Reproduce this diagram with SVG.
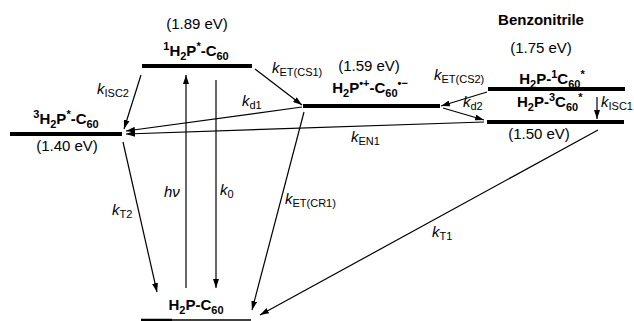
<svg xmlns="http://www.w3.org/2000/svg" width="634" height="321" viewBox="0 0 634 321">
<style>
text{font-family:"Liberation Sans",Arial,sans-serif;font-size:15px;fill:#000}
.b{font-weight:bold}
.k{font-style:italic}
.s{font-size:11px;font-style:normal}
.lvl{stroke:#000;stroke-width:4;fill:none}
.ar{stroke:#000;stroke-width:1.2;fill:none;marker-end:url(#ah)}
</style>
<defs>
<marker id="ah" markerUnits="userSpaceOnUse" markerWidth="10" markerHeight="6" refX="9" refY="3" orient="auto">
<path d="M0,0 L9,3 L0,6 z" fill="#000"/>
</marker>
</defs>
<rect width="634" height="321" fill="#fff"/>
<text class="b" x="541" y="25" text-anchor="middle">Benzonitrile</text>

<g id="S1">
<line class="lvl" x1="142" y1="66" x2="252" y2="66"/>
<text x="197" y="29" text-anchor="middle">(1.89 eV)</text>
<text class="b" x="196" y="56" text-anchor="middle"><tspan dy="-6" font-size="11">1</tspan><tspan dy="6">H</tspan><tspan dy="4" font-size="11">2</tspan><tspan dy="-4">P</tspan><tspan dy="-6" font-size="11">*</tspan><tspan dy="6">-C</tspan><tspan dy="4" font-size="11">60</tspan></text>
</g>

<g id="T1">
<line class="lvl" x1="10" y1="134" x2="122" y2="134"/>
<text class="b" x="66" y="124" text-anchor="middle"><tspan dy="-6" font-size="11">3</tspan><tspan dy="6">H</tspan><tspan dy="4" font-size="11">2</tspan><tspan dy="-4">P</tspan><tspan dy="-6" font-size="11">*</tspan><tspan dy="6">-C</tspan><tspan dy="4" font-size="11">60</tspan></text>
<text x="67" y="151" text-anchor="middle">(1.40 eV)</text>
</g>

<g id="CS">
<line class="lvl" x1="303" y1="106" x2="440" y2="106"/>
<text x="369" y="71" text-anchor="middle">(1.59 eV)</text>
<text class="b" x="370" y="93" text-anchor="middle">H<tspan dy="4" font-size="11">2</tspan><tspan dy="-4">P</tspan><tspan dy="-6" font-size="11">•+</tspan><tspan dy="6">-C</tspan><tspan dy="4" font-size="11">60</tspan><tspan dy="-10" font-size="11">•−</tspan></text>
</g>

<g id="C1">
<line class="lvl" x1="488" y1="89" x2="625" y2="89"/>
<text x="541" y="53" text-anchor="middle">(1.75 eV)</text>
<text class="b" x="552" y="84" text-anchor="middle">H<tspan dy="4" font-size="11">2</tspan><tspan dy="-4">P-</tspan><tspan dy="-6" font-size="11">1</tspan><tspan dy="6">C</tspan><tspan dy="4" font-size="11">60</tspan><tspan dy="-10" font-size="11">*</tspan></text>
</g>

<g id="C3">
<line class="lvl" x1="487" y1="122" x2="624" y2="122"/>
<text class="b" x="517" y="107">H<tspan dy="4" font-size="11">2</tspan><tspan dy="-4">P-</tspan><tspan dy="-6" font-size="11">3</tspan><tspan dy="6">C</tspan><tspan dy="4" font-size="11">60</tspan><tspan dy="-10" font-size="11">*</tspan></text>
<text x="539" y="139" text-anchor="middle">(1.50 eV)</text>
</g>

<g id="G">
<line x1="141" y1="320" x2="251" y2="320" stroke="#000" stroke-width="1.5"/>
<line x1="141" y1="320" x2="172" y2="320" stroke="#000" stroke-width="2.5"/>
<text class="b" x="196" y="310" text-anchor="middle">H<tspan dy="4" font-size="11">2</tspan><tspan dy="-4">P-C</tspan><tspan dy="4" font-size="11">60</tspan></text>
</g>

<g id="connectors">
<line class="ar" x1="141" y1="75" x2="124" y2="129"/>
<line class="ar" x1="255" y1="69" x2="302" y2="105"/>
<line class="ar" x1="302" y1="107" x2="126" y2="131"/>
<line class="ar" x1="484" y1="122" x2="126" y2="134"/>
<line class="ar" x1="186" y1="288" x2="186" y2="75"/>
<line class="ar" x1="216" y1="80" x2="216" y2="288"/>
<line class="ar" x1="123" y1="142" x2="157" y2="292"/>
<line class="ar" x1="304" y1="112" x2="252" y2="310"/>
<line class="ar" x1="598" y1="130" x2="260" y2="315"/>
<line class="ar" x1="487" y1="92" x2="441" y2="106"/>
<line class="ar" x1="443" y1="108" x2="484" y2="120"/>
<line class="ar" x1="597" y1="97" x2="597" y2="119"/>
</g>

<g id="labels">
<text class="k" x="97" y="94">k<tspan class="s" dy="3">ISC2</tspan></text>
<text class="k" x="272" y="73">k<tspan class="s" dy="3">ET(CS1)</tspan></text>
<text class="k" x="242" y="106">k<tspan class="s" dy="3">d1</tspan></text>
<text class="k" x="434" y="80">k<tspan class="s" dy="3">ET(CS2)</tspan></text>
<text class="k" x="463" y="107">k<tspan class="s" dy="3">d2</tspan></text>
<text class="k" x="601" y="107">k<tspan class="s" dy="3">ISC1</tspan></text>
<text class="k" x="351" y="142">k<tspan class="s" dy="3">EN1</tspan></text>
<text class="k" x="164" y="197">hν</text>
<text class="k" x="220" y="195">k<tspan class="s" dy="3">0</tspan></text>
<text class="k" x="112" y="215">k<tspan class="s" dy="3">T2</tspan></text>
<text class="k" x="285" y="204">k<tspan class="s" dy="3">ET(CR1)</tspan></text>
<text class="k" x="432" y="237">k<tspan class="s" dy="3">T1</tspan></text>
</g>
</svg>
